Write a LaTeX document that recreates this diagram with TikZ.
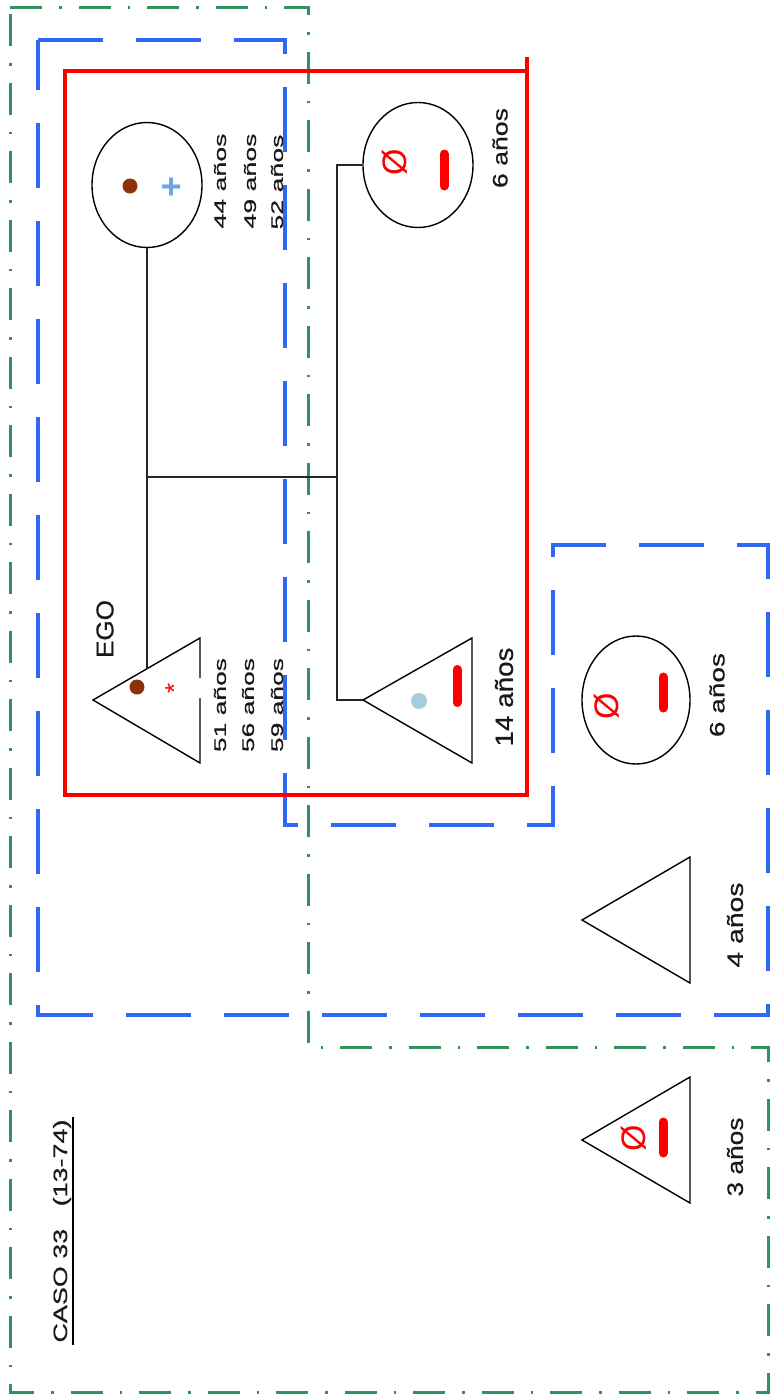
\documentclass[tikz,border=0pt]{standalone}
\usepackage{fontspec}
\setmainfont{Liberation Sans}
\newfontfamily\lblfont{Liberation Sans}[FakeBold=0.6]
\usepackage{graphicx}
\usetikzlibrary{shapes.geometric}
\definecolor{framegreen}{RGB}{50,145,95}
\definecolor{frameblue}{RGB}{45,105,245}
\definecolor{framered}{RGB}{250,0,0}
\definecolor{dotbrown}{RGB}{140,50,10}
\definecolor{plusblue}{RGB}{110,165,225}
\definecolor{dotblue}{RGB}{165,205,220}
\begin{document}
\begin{tikzpicture}[x=1pt,y=-1pt,
  greenframe/.style={draw=framegreen, line width=3, dash pattern=on 32 off 17 on 2.5 off 17},
  blueframe/.style={draw=frameblue, line width=3.5, dash pattern=on 65 off 33},
  redframe/.style={draw=framered, line width=3.5},
  kinshape/.style={draw=black, line width=1.4},
  conn/.style={draw=black!85, line width=1.4},
  kinellipse/.style={kinshape, ellipse, minimum width=110, minimum height=125, inner sep=0},
  lbl/.style={rotate=90, inner sep=0, text=black!90, font=\lblfont},
  redbar/.style={draw=framered, line width=9, line cap=round},
  nullsym/.style={rotate=90, inner sep=0, text=framered, font=\fontsize{34}{34}\selectfont},
  ptdot/.style={inner sep=0}
]
\useasboundingbox (0,0) rectangle (770,1395);

% frames
\draw[greenframe] (10,7) -- (308,7) -- (308,1047) -- (768,1047) -- (768,1392) -- (10,1392) -- cycle;
\draw[blueframe] (38,40) -- (285,40) -- (285,825) -- (553,825) -- (553,545) -- (768,545) -- (768,1015) -- (38,1015) -- cycle;
\draw[redframe] (527,57) -- (527,795) -- (65,795) -- (65,71) -- (527,71);

% mother
\node[kinellipse] (mother) at (147,185) {};
\fill[dotbrown] (130,186) circle (7.5);
\node[rotate=90, inner sep=0, anchor=base, text=plusblue, font=\fontsize{36}{36}\selectfont\bfseries] (mplus) at (183.5,187) {+};
\node[lbl] (m44) at (220,181) {\resizebox{95pt}{12pt}{44 años}};
\node[lbl] (m49) at (250,181) {\resizebox{95pt}{12pt}{49 años}};
\node[lbl] (m52) at (277,182) {\resizebox{95pt}{12pt}{52 años}};

% ego
\coordinate (ego) at (93,700);
\coordinate (egotop) at (147,669);
\draw[kinshape] (200,678) -- (200,638) -- (ego) -- (200,763) -- (200,698);
\fill[dotbrown] (137,687) circle (7.5);
\node[rotate=90, inner sep=0, anchor=base, text=framered, font=\fontsize{26}{26}\selectfont] (egostar) at (183,688) {*};
\node[lbl] (egolbl) at (105,629) {\resizebox{58pt}{17pt}{EGO}};
\node[lbl] (e51) at (220,705) {\resizebox{94pt}{12pt}{51 años}};
\node[lbl] (e56) at (248,705) {\resizebox{94pt}{12pt}{56 años}};
\node[lbl] (e59) at (277,705) {\resizebox{94pt}{12pt}{59 años}};

% daughter (top right)
\node[kinellipse] (daughter) at (418,165) {};
\node[nullsym] (dnull) at (395,162) {Ø};
\draw[redbar] (444,154) -- (444,186);
\node[lbl] (d6) at (500,148) {\resizebox{80pt}{15pt}{6 años}};

% son
\coordinate (son) at (363,700);
\draw[kinshape] (son) -- (472,638) -- (472,763) -- cycle;
\fill[dotblue] (419,701) circle (8);
\draw[redbar] (457,669.5) -- (457,702.5);
\node[lbl] (s14) at (504,697) {\resizebox{99pt}{18pt}{14 años}};

% connectors
\coordinate (m1) at (147,477);
\coordinate (m2) at (337,477);
\draw[conn] (mother.south) -- (egotop);
\draw[conn] (m1) -- (m2);
\draw[conn] (daughter.west) -| (m2) |- (son);

% sister 6 años
\node[kinellipse, minimum width=108, minimum height=128] (sis) at (636,700) {};
\node[nullsym] (snull) at (607,706) {Ø};
\draw[redbar] (663,677) -- (663,708);
\node[lbl] (s6) at (717,695) {\resizebox{84pt}{15pt}{6 años}};

% brother 4 años
\coordinate (b4) at (582,920);
\draw[kinshape] (b4) -- (690,857) -- (690,983) -- cycle;
\node[lbl] (b4lbl) at (735,925) {\resizebox{85pt}{16pt}{4 años}};

% brother 3 años
\coordinate (b3) at (582,1140);
\draw[kinshape] (b3) -- (690,1077) -- (690,1203) -- cycle;
\node[nullsym] (b3null) at (634,1138) {Ø};
\draw[redbar] (663,1122) -- (663,1153);
\node[lbl] (b3lbl) at (735,1157) {\resizebox{79pt}{16pt}{3 años}};

% title
\node[lbl] (caso) at (62,1231) {\resizebox{223pt}{14pt}{CASO 33\ \ \ (13-74)}};
\draw[line width=2.2] ([xshift=1.5pt,yshift=-2pt]caso.south west) -- ([xshift=1.5pt,yshift=2pt]caso.south east);
\end{tikzpicture}
\end{document}
